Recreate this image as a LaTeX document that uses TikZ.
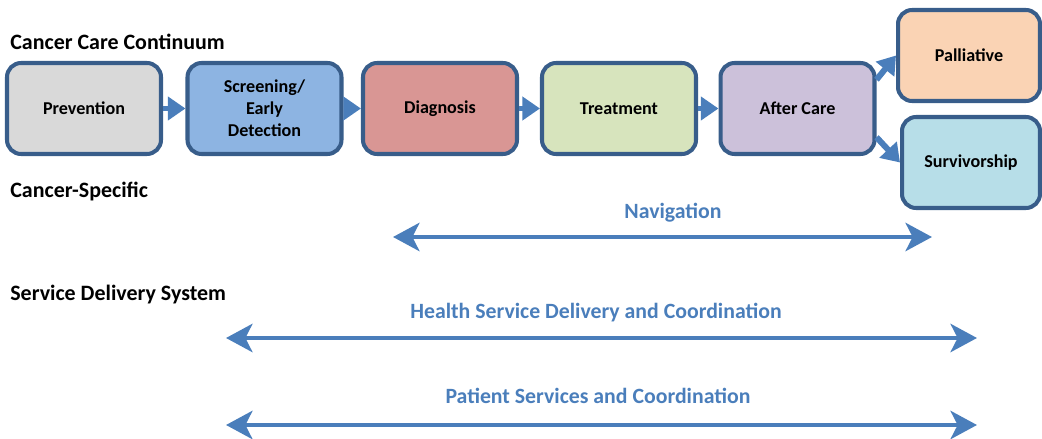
\documentclass[tikz,border=0pt]{standalone}
\usepackage{fontspec}
\setmainfont{Carlito}
\usepackage{tikz}
\usetikzlibrary{arrows.meta,positioning,calc}
\definecolor{stageborder}{HTML}{385D8A}
\definecolor{linkblue}{HTML}{4A7EBB}
\definecolor{prevgrey}{HTML}{D9D9D9}
\definecolor{screenblue}{HTML}{8DB4E2}
\definecolor{diagred}{HTML}{D99694}
\definecolor{treatgreen}{HTML}{D7E4BD}
\definecolor{aftpurple}{HTML}{CCC1DA}
\definecolor{pallorange}{HTML}{FAD3B4}
\definecolor{survcyan}{HTML}{B7DEE8}

\begin{document}
\begin{tikzpicture}[x=0.02cm, y=-0.02cm,
  stage/.style={draw=stageborder, line width=2.3pt, rounded corners=8pt, minimum width=3.08cm, minimum height=1.82cm, align=center, font=\fontsize{10.3}{12.4}\selectfont\bfseries, inner sep=2pt},
  flow/.style={-{Triangle[length=10pt,width=13pt]}, linkblue, line width=3.4pt},
  span/.style={{Stealth[length=15pt,width=16pt,inset=4pt]}-{Stealth[length=15pt,width=16pt,inset=4pt]}, linkblue, line width=2.8pt},
  heading/.style={anchor=west, font=\fontsize{12.5}{14}\selectfont\bfseries, inner sep=0pt},
  spanlabel/.style={text=linkblue, font=\fontsize{12.4}{14}\selectfont\bfseries, inner sep=0pt}]
\useasboundingbox (0,0) rectangle (1042,439);

% row headings
\node[heading] (hcont) at (10,42) {Cancer Care Continuum};
\node[heading] (hspec) at (10,192) {Cancer-Specific};
\node[heading] (hserv) at (10,295) {Service Delivery System};

% continuum stages
\node[stage, fill=prevgrey] (prev) at (84,108.5) {Prevention};
\node[stage, fill=screenblue] (screen) at (264.5,108.5) {Screening/\\Early\\Detection};
\node[stage, fill=diagred] (diag) at (440,108.5) {Diagnosis};
\node[stage, fill=treatgreen] (treat) at (619,108.5) {Treatment};
\node[stage, fill=aftpurple] (after) at (797.5,108.5) {After Care};
\node[stage, fill=pallorange, minimum width=2.84cm] (pall) at (969,55.5) {Palliative};
\node[stage, fill=survcyan, minimum width=2.76cm] (surv) at (971,162.5) {Survivorship};

\draw[flow] (prev.east) -- (screen.west);
\draw[flow] (screen.east) -- (diag.west);
\draw[flow] (diag.east) -- (treat.west);
\draw[flow] (treat.east) -- (after.west);
\draw[flow] (after.20) -- (pall.west);
\draw[flow] (after.-20) -- (surv.west);

% spans
\coordinate (navL) at (393,237);
\coordinate (navR) at (932,237);
\coordinate (hsdL) at (226,338);
\coordinate (hsdR) at (977,338);
\coordinate (patL) at (226,425);
\coordinate (patR) at (977,425);
\node[spanlabel] (navlab) at (673,213) {Navigation};
\node[spanlabel] (hsdlab) at (596,313) {Health Service Delivery and Coordination};
\node[spanlabel] (patlab) at (598,396) {Patient Services and Coordination};
\draw[span] (navL) -- (navR);
\draw[span] (hsdL) -- (hsdR);
\draw[span] (patL) -- (patR);
\end{tikzpicture}
\end{document}
